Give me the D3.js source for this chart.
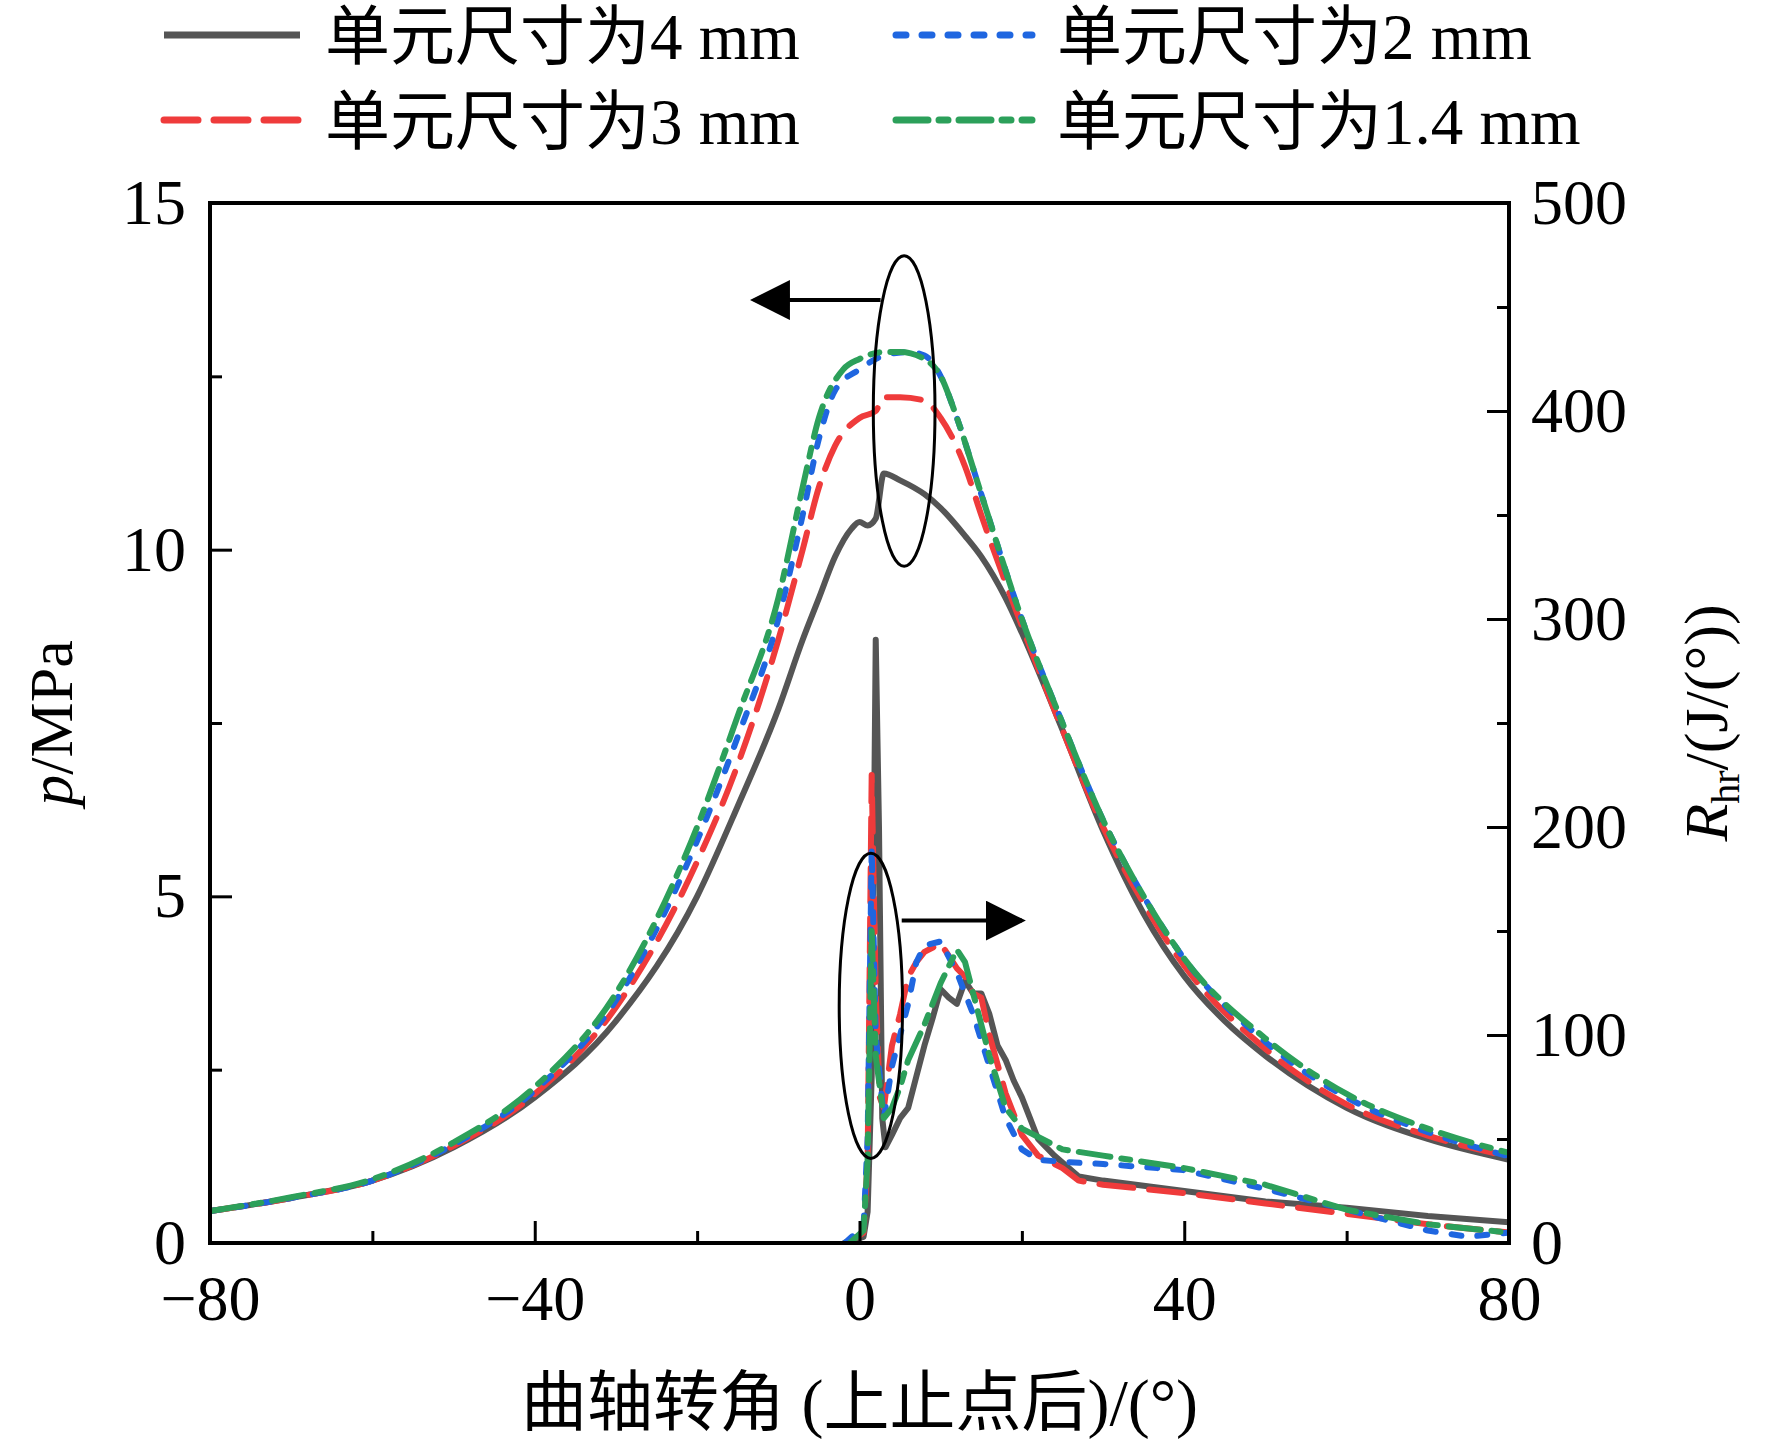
<!DOCTYPE html>
<html><head><meta charset="utf-8">
<script src="https://cdn.jsdelivr.net/npm/d3@7"></script>
<style>body{margin:0;background:#fff}text{font-family:"Liberation Serif","Noto Sans CJK SC",serif}</style>
</head><body>
<svg id="c" width="1772" height="1445"></svg>
<script>
const seriesNames = ["单元尺寸为4 mm","单元尺寸为2 mm","单元尺寸为3 mm","单元尺寸为1.4 mm"];
const xTicks = [-80,-40,0,40,80];
const pTicks = [0,5,10,15];
const rTicks = [0,100,200,300,400,500];
// pressure [angle, MPa]
const p4  = [[-80,.46],[-70,.65],[-60,.9],[-50,1.38],[-40,2.1],[-30,3.2],[-20,5.0],[-15,6.3],[-10,7.7],[-7,8.7],[-5,9.3],[-3,9.9],[-1,10.3],[0,10.4],[1,10.35],[2,10.45],[3,11.1],[5,11.0],[8,10.8],[10,10.6],[13,10.2],[15,9.9],[18,9.3],[20,8.8],[25,7.4],[30,5.95],[35,4.75],[40,3.85],[45,3.2],[50,2.7],[60,1.95],[70,1.5],[80,1.2]];
const p3  = [[-80,.46],[-70,.65],[-60,.9],[-50,1.4],[-40,2.15],[-30,3.4],[-20,5.5],[-15,6.9],[-10,8.7],[-7,10.0],[-5,10.9],[-3,11.5],[0,11.9],[2,12.0],[3,12.2],[5,12.2],[8,12.15],[10,11.9],[13,11.2],[15,10.5],[20,8.9],[25,7.4],[30,6.0],[35,4.9],[40,4.0],[50,2.8],[60,2.0],[70,1.55],[80,1.25]];
const p2  = [[-80,.46],[-70,.65],[-60,.9],[-50,1.42],[-40,2.2],[-30,3.5],[-20,5.8],[-15,7.3],[-10,9.0],[-7,10.5],[-5,11.6],[-3,12.3],[0,12.6],[3,12.8],[6,12.85],[8,12.8],[10,12.5],[12,11.9],[15,10.8],[20,9.0],[25,7.5],[30,6.1],[35,5.0],[40,4.1],[50,2.9],[60,2.1],[70,1.6],[80,1.25]];
const p14 = [[-80,.46],[-70,.66],[-60,.92],[-50,1.45],[-40,2.25],[-30,3.6],[-20,6.0],[-15,7.6],[-10,9.3],[-7,10.9],[-5,11.9],[-2,12.6],[0,12.75],[3,12.85],[5,12.85],[8,12.75],[10,12.5],[12,11.9],[15,10.8],[20,9.0],[25,7.5],[30,6.1],[35,5.0],[40,4.1],[50,2.95],[60,2.15],[70,1.65],[80,1.3]];
// heat release rate [angle, J/deg]
const r4  = [[-2,0],[0.5,3],[1,15],[1.5,80],[2,290],[2.4,200],[2.8,60],[3.2,46],[4,52],[5,60],[6,65],[7,80],[8,95],[9,108],[10,122],[11,118],[12,115],[13,126],[14,120],[15,120],[16,110],[17,95],[18,88],[19,78],[20,70],[21,60],[22,50],[24,42],[27,32],[30,30],[40,25],[50,20],[60,17],[70,13],[80,10]];
const r3  = [[-1.5,0],[0.5,5],[1,40],[1.5,225],[2,120],[2.5,70],[3,65],[4,95],[5,110],[6,128],[7,135],[8,140],[10,144],[12,132],[13,128],[14,120],[15,118],[16,100],[18,72],[20,52],[22,42],[25,36],[27,30],[30,28],[40,24],[50,19],[60,14],[70,9],[80,5]];
const r2  = [[-1.8,0],[0.5,8],[1,50],[1.5,190],[2,100],[3,60],[4,85],[5,100],[6,115],[7,135],[8,143],[10,145],[12,130],[13,120],[14,110],[16,85],[18,60],[20,45],[22,40],[25,39],[30,38],[40,35],[50,26],[60,16],[70,6],[75,3],[80,5]];
const r14 = [[-1.2,0],[0.5,6],[1,40],[1.5,150],[2,90],[3,60],[4,65],[5,75],[6,88],[8,105],[10,125],[12,141],[13,135],[14,120],[16,90],[18,65],[20,55],[25,45],[30,42],[40,36],[50,28],[60,16],[70,9],[80,5]];

const colors = ["#555555","#1f66e0","#ef3b3b","#2ca05a"];
const dashes = [null,"10 16","34 16","32 11 9 11"];
const pData = [p4,p2,p3,p14], rData=[r4,r2,r3,r14];

const L=210,R=1509,T=203,B=1243;
const svg=d3.select("#c");
const x=d3.scaleLinear().domain([-80,80]).range([L,R]);
const yp=d3.scaleLinear().domain([0,15]).range([B,T]);
const yr=d3.scaleLinear().domain([0,500]).range([B,T]);
svg.append("clipPath").attr("id","cl").append("rect").attr("x",L).attr("y",T).attr("width",R-L).attr("height",B-T);
const g=svg.append("g").attr("clip-path","url(#cl)");
const order=[0,2,1,3];
order.forEach(i=>{
  const lp=d3.line().x(d=>x(d[0])).y(d=>yp(d[1])).curve(d3.curveMonotoneX);
  const lr=d3.line().x(d=>x(d[0])).y(d=>yr(d[1]));
  [[pData[i],lp],[rData[i],lr]].forEach(([dat,ln])=>{
    g.append("path").attr("d",ln(dat)).attr("fill","none").attr("stroke",colors[i]).attr("stroke-width",6)
     .attr("stroke-dasharray",dashes[i]).attr("stroke-linecap",i==0?"butt":"round").attr("stroke-linejoin","round");
  });
});
const fs=64;
function ax(axis,tr){const a=svg.append("g").attr("transform",tr).call(axis);a.select(".domain").remove();a.selectAll("line").attr("stroke","#000").attr("stroke-width",3);a.selectAll("text").attr("font-size",fs).attr("fill","#000");return a;}
ax(d3.axisBottom(x).tickValues(xTicks).tickSize(-22).tickPadding(32).tickFormat(d=>d<0?"\u2212"+(-d):d),`translate(0,${B})`);
ax(d3.axisBottom(x).tickValues([-60,-20,20,60]).tickSize(-12).tickFormat(""),`translate(0,${B})`);
ax(d3.axisLeft(yp).tickValues(pTicks).tickSize(-22).tickPadding(24),`translate(${L},0)`);
ax(d3.axisLeft(yp).tickValues([2.5,7.5,12.5]).tickSize(-12).tickFormat(""),`translate(${L},0)`);
ax(d3.axisRight(yr).tickValues(rTicks).tickSize(-22).tickPadding(22),`translate(${R},0)`);
ax(d3.axisRight(yr).tickValues([50,150,250,350,450]).tickSize(-12).tickFormat(""),`translate(${R},0)`);
svg.append("rect").attr("x",L).attr("y",T).attr("width",R-L).attr("height",B-T).attr("fill","none").attr("stroke","#000").attr("stroke-width",4);
const ell=(cx,cy,rx,ry)=>svg.append("ellipse").attr("cx",x(cx)).attr("cy",yp(cy)).attr("rx",x(rx)-x(0)).attr("ry",yp(0)-yp(ry)).attr("fill","none").attr("stroke","#000").attr("stroke-width",3);
ell(5.5,12.0,3.8,2.24);
ell(1.4,3.42,3.9,2.2);
svg.append("defs").append("marker").attr("id","ah").attr("viewBox","0 0 10 10").attr("refX",9).attr("refY",5).attr("markerWidth",40).attr("markerHeight",40).attr("markerUnits","userSpaceOnUse").attr("orient","auto")
  .append("path").attr("d","M0,0L10,5L0,10z");
const arr=(x1,y1,x2,y2)=>svg.append("line").attr("x1",x(x1)).attr("y1",yp(y1)).attr("x2",x(x2)).attr("y2",yp(y2)).attr("stroke","#000").attr("stroke-width",4).attr("marker-end","url(#ah)");
arr(2.6,13.6,-13,13.6);
arr(5.2,4.65,20,4.65);
svg.append("text").attr("x",x(0)).attr("y",1425).attr("text-anchor","middle").attr("font-size",66).text("曲轴转角 (上止点后)/(°)");
const lt=svg.append("text").attr("transform","translate(72,723) rotate(-90)").attr("text-anchor","middle").attr("font-size",62);
lt.append("tspan").attr("font-style","italic").text("p");lt.append("tspan").text("/MPa");
const rt=svg.append("text").attr("transform","translate(1727,723) rotate(-90)").attr("text-anchor","middle").attr("font-size",62);
rt.append("tspan").attr("font-style","italic").text("R");
rt.append("tspan").attr("font-size",40).attr("dy",12).text("hr");
rt.append("tspan").attr("dy",-12).text("/(J/(°))");
const leg=[[164,45,0],[896,45,1],[164,130,2],[896,130,3]];
leg.forEach(([lx,ly,i])=>{
  svg.append("line").attr("x1",lx).attr("x2",lx+136).attr("y1",ly-10).attr("y2",ly-10).attr("stroke",colors[i]).attr("stroke-width",7).attr("stroke-dasharray",dashes[i]).attr("stroke-linecap",i==0?"butt":"round");
  svg.append("text").attr("x",lx+161).attr("y",ly+14).attr("font-size",65).text(seriesNames[i]);
});
</script></body></html>
